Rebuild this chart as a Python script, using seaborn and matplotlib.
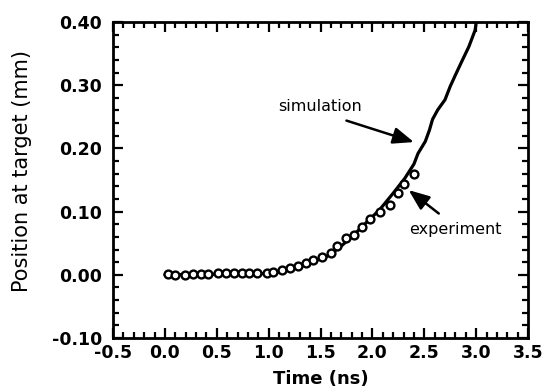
import matplotlib
matplotlib.use("Agg")
import matplotlib.pyplot as plt
import seaborn as sns
import pandas as pd
from matplotlib.ticker import MultipleLocator, FormatStrFormatter

# Experimental data (open circles)
exp_time = [0.03, 0.10, 0.19, 0.27, 0.35, 0.42, 0.51, 0.59, 0.67, 0.74, 0.81,
            0.89, 0.98, 1.04, 1.13, 1.21, 1.28, 1.36, 1.43, 1.51, 1.60, 1.66,
            1.75, 1.82, 1.90, 1.98, 2.07, 2.17, 2.25, 2.30, 2.40]
exp_pos = [0.001, -0.001, -0.001, 0.002, 0.002, 0.001, 0.003, 0.003, 0.003,
           0.003, 0.003, 0.003, 0.003, 0.004, 0.007, 0.010, 0.014, 0.019,
           0.024, 0.028, 0.034, 0.046, 0.058, 0.063, 0.075, 0.088, 0.100,
           0.110, 0.130, 0.144, 0.160]

# Simulation curve
sim_time = [0.0, 0.5, 1.0, 1.14, 1.30, 1.43, 1.56, 1.69, 1.82, 1.95, 2.07,
            2.20, 2.31, 2.40, 2.44, 2.51, 2.55, 2.58, 2.63, 2.70, 2.75, 2.80,
            2.86, 2.93, 2.99, 3.01]
sim_pos = [0.0, 0.001, 0.002, 0.005, 0.013, 0.021, 0.029, 0.044, 0.063, 0.084,
           0.103, 0.129, 0.152, 0.175, 0.192, 0.211, 0.229, 0.246, 0.261,
           0.277, 0.298, 0.316, 0.337, 0.361, 0.387, 0.41]

xticks = [-0.5, 0.0, 0.5, 1.0, 1.5, 2.0, 2.5, 3.0, 3.5]
yticks = [-0.10, 0.00, 0.10, 0.20, 0.30, 0.40]

sns.set_style("ticks")
plt.rcParams['font.family'] = ['DejaVu Sans']
plt.rcParams['axes.unicode_minus'] = False
for k in ['text.color', 'axes.labelcolor', 'xtick.color', 'ytick.color',
          'xtick.labelcolor', 'ytick.labelcolor']:
    plt.rcParams[k] = 'black'

fig = plt.figure(figsize=(5.44, 3.92), dpi=100)
ax = fig.add_axes([113/544, 1-338/392, 415/544, 316/392])

sim_df = pd.DataFrame({"t": sim_time, "p": sim_pos})
exp_df = pd.DataFrame({"t": exp_time, "p": exp_pos})

sns.lineplot(data=sim_df, x="t", y="p", ax=ax, color="black", linewidth=2.3,
             sort=False)
sns.scatterplot(data=exp_df, x="t", y="p", ax=ax, marker="o", s=32,
                facecolor="white", edgecolor="black", linewidth=1.7, zorder=3)

ax.set_xlim(-0.5, 3.5)
ax.set_ylim(-0.1, 0.4)
ax.set_xticks(xticks)
ax.set_yticks(yticks)
ax.xaxis.set_major_formatter(FormatStrFormatter('%.1f'))
ax.yaxis.set_major_formatter(FormatStrFormatter('%.2f'))
ax.xaxis.set_minor_locator(MultipleLocator(0.1))
ax.yaxis.set_minor_locator(MultipleLocator(0.02))
ax.tick_params(which='both', direction='in', top=True, right=True,
               color='black', width=1.6)
ax.tick_params(which='major', length=7)
ax.tick_params(which='minor', length=4)
ax.tick_params(axis='x', which='major', pad=4)
ax.tick_params(axis='y', which='major', pad=8)
for lab in ax.get_xticklabels() + ax.get_yticklabels():
    lab.set_fontsize(12.5)
    lab.set_fontweight('bold')
    lab.set_color('black')
for s in ax.spines.values():
    s.set_linewidth(2)
    s.set_color('black')

ax.set_xlabel("Time (ns)", fontsize=13, fontweight='bold', color='black')
ax.set_ylabel("Position at target (mm)", fontsize=15, color='black')
ax.xaxis.set_label_coords(0.5, -0.1)
ax.yaxis.set_label_coords(-0.195, 0.53)

ax.text(1.50, 0.266, "simulation", fontsize=11.5, ha='center', va='center',
        color='black')
ax.text(2.80, 0.071, "experiment", fontsize=11.5, ha='center', va='center',
        color='black')
arrow = dict(arrowstyle='-|>,head_length=0.7,head_width=0.28', color='black',
             lw=1.8, mutation_scale=18, shrinkA=0, shrinkB=0)
ax.annotate("", xy=(2.40, 0.210), xytext=(1.75, 0.244), arrowprops=arrow)
ax.annotate("", xy=(2.35, 0.134), xytext=(2.64, 0.097), arrowprops=arrow)

fig.savefig("out.png", dpi=100)
